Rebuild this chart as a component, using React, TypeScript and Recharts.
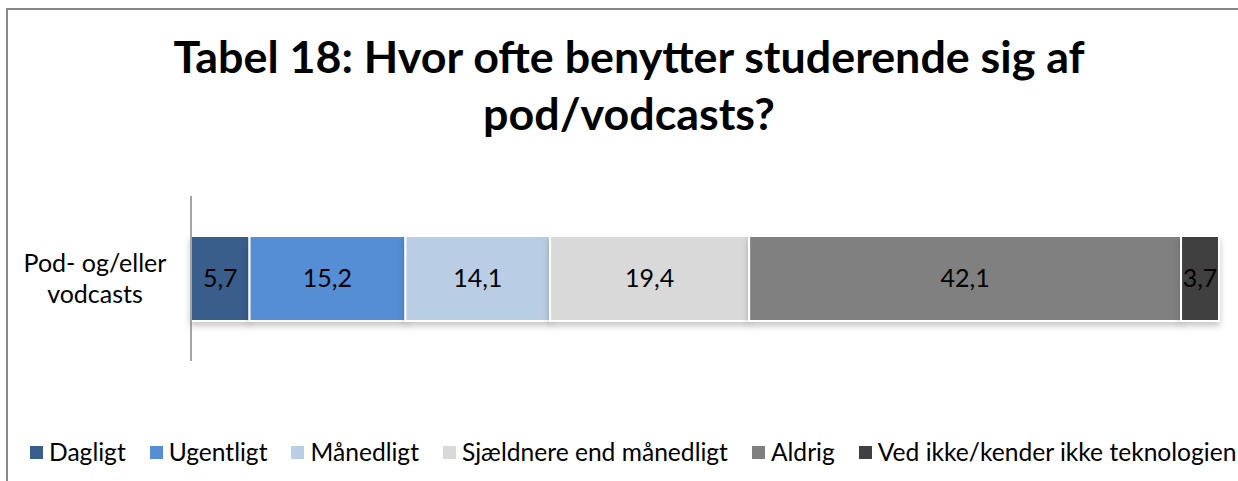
import React from "react";
import { BarChart, Bar, XAxis, YAxis, LabelList } from "recharts";

const categories = ["Pod- og/eller vodcasts"];
const categoryLines = [["Pod- og/eller", "vodcasts"]];

const seriesNames = [
  "Dagligt",
  "Ugentligt",
  "Månedligt",
  "Sjældnere end månedligt",
  "Aldrig",
  "Ved ikke/kender ikke teknologien",
];
const seriesValues = [5.7, 15.2, 14.1, 19.4, 42.1, 3.7];
const seriesColors = ["#3a5e8c", "#558ed5", "#b9cde5", "#d9d9d9", "#808080", "#404040"];

const titleLines = ["Tabel 18: Hvor ofte benytter studerende sig af", "pod/vodcasts?"];

const FONT = "Lato, 'Open Sans', sans-serif";

const data = categories.map((name) => {
  const row: Record<string, string | number> = { name };
  seriesNames.forEach((_, i) => {
    row[`s${i}`] = seriesValues[i];
  });
  return row;
});

const fmt = (v: unknown) => String(v).replace(".", ",");

function CategoryTick({ y, payload }: any) {
  const idx = categories.indexOf(payload.value);
  const lines = categoryLines[idx] ?? [payload.value];
  return (
    <text x={95} y={y} textAnchor="middle" fontSize={25} fill="#000" fontFamily={FONT}>
      {lines.map((l, i) => (
        <tspan key={i} x={95} dy={i === 0 ? -6.5 : 31}>
          {l}
        </tspan>
      ))}
    </text>
  );
}

function ChartLegend() {
  return (
    <div
      style={{
        position: "absolute",
        left: 30,
        top: 437,
        display: "flex",
        alignItems: "center",
        fontSize: 24.6,
        lineHeight: "30px",
        color: "#000",
        whiteSpace: "nowrap",
        gap: 24,
      }}
    >
      {seriesNames.map((n, i) => (
        <div key={n} style={{ display: "flex", alignItems: "center" }}>
          <span
            style={{
              display: "inline-block",
              width: 13,
              height: 13,
              background: seriesColors[i],
              marginRight: 6,
            }}
          />
          <span>{n}</span>
        </div>
      ))}
    </div>
  );
}

export default function App() {
  return (
    <div
      style={{
        position: "absolute",
        left: 0,
        top: 0,
        width: 1238,
        height: 481,
        overflow: "hidden",
        background: "#fff",
        fontFamily: FONT,
      }}
    >
      <style>{`.recharts-bar-rectangles { filter: drop-shadow(0px 4px 3px rgba(0,0,0,0.22)); }`}</style>
      <div
        style={{
          position: "absolute",
          left: 6,
          top: 8,
          width: 1300,
          height: 520,
          border: "2px solid #878787",
        }}
      />
      {titleLines.map((t, i) => (
        <div
          key={t}
          style={{
            position: "absolute",
            left: 0,
            width: 1258,
            top: 28 + i * 57,
            textAlign: "center",
            fontSize: 44.8,
            fontWeight: 700,
            lineHeight: "56px",
            color: "#000",
            whiteSpace: "nowrap",
          }}
        >
          {t}
        </div>
      ))}
      <div style={{ position: "absolute", left: 0, top: 0 }}>
        <BarChart
          width={1238}
          height={481}
          data={data}
          layout="vertical"
          margin={{ top: 196, right: 19, bottom: 120, left: 0 }}
        >
          <XAxis type="number" hide domain={[0, "dataMax"]} />
          <YAxis
            type="category"
            dataKey="name"
            width={191}
            axisLine={{ stroke: "#868686", strokeWidth: 1.5 }}
            tickLine={false}
            tick={<CategoryTick />}
          />
          {seriesNames.map((n, i) => (
            <Bar
              key={n}
              dataKey={`s${i}`}
              name={n}
              stackId="a"
              fill={seriesColors[i]}
              stroke="#fff"
              strokeWidth={2}
              barSize={85}
              isAnimationActive={false}
            >
              <LabelList
                dataKey={`s${i}`}
                position="center"
                formatter={fmt}
                fill="#000"
                fontSize={25}
                fontFamily={FONT}
              />
            </Bar>
          ))}
        </BarChart>
      </div>
      <ChartLegend />
    </div>
  );
}
